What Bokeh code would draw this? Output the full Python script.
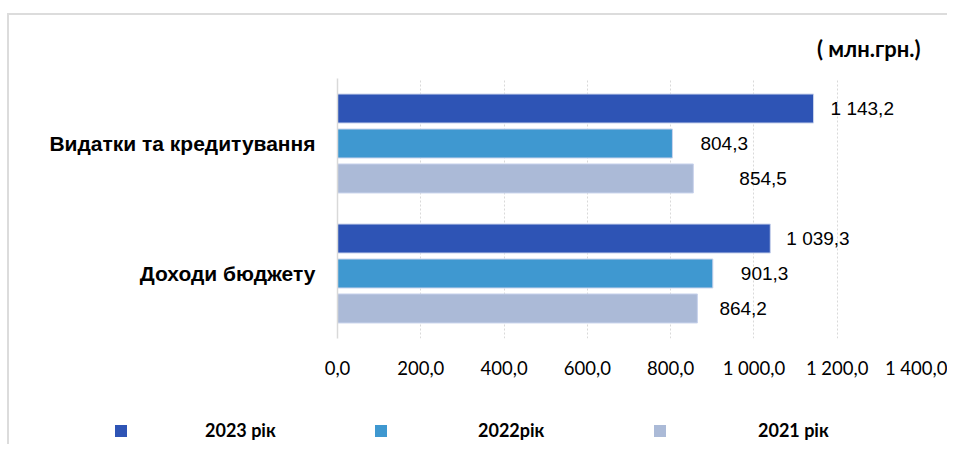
from bokeh.plotting import figure
from bokeh.models import (FactorRange, Range1d, ColumnDataSource, FixedTicker, Legend,
                          LegendItem, Title)
from bokeh.layouts import column
from bokeh.transform import dodge
from bokeh.core.properties import value
from bokeh.embed import file_html
from bokeh.resources import INLINE

categories = ["Видатки та кредитування", "Доходи бюджету"]
series_names = ["2023 рік", "2022рік", "2021 рік"]
v2023 = [1143.2, 1039.3]
v2022 = [804.3, 901.3]
v2021 = [854.5, 864.2]
tick_values = [0, 200, 400, 600, 800, 1000, 1200, 1400]
tick_labels = ["0,0", "200,0", "400,0", "600,0", "800,0", "1 000,0", "1 200,0", "1 400,0"]
unit_label = "( млн.грн.)"

colors = ["#2E54B5", "#3F98D0", "#ABBAD7"]
label_offsets = [[17, 16], [28, 28], [46, 22]]
dodges = [0.269, 0.0, -0.269]
legend_x = [113, 373, 652]
legend_standoff = [77, 90, 91]


def fmt(v):
    s = f"{v:,.1f}"
    return s.replace(",", " ").replace(".", ",")


W, H1, H2 = 947, 400, 44
p = figure(width=W, height=H1, output_backend="svg", toolbar_location=None,
           y_range=FactorRange(factors=list(reversed(categories))),
           x_range=Range1d(0, 1400),
           min_border_left=337, min_border_right=W - 920, min_border_top=78,
           min_border_bottom=H1 - 338)
p.outline_line_color = None
p.background_fill_color = "white"
p.border_fill_color = "white"

renderers = []
series_vals = [v2023, v2022, v2021]
for vals, col, d, offs in zip(series_vals, colors, dodges, label_offsets):
    src = ColumnDataSource(dict(cat=categories, val=vals, lbl=[fmt(v) for v in vals], off=offs))
    r = p.hbar(y=dodge("cat", d, range=p.y_range), right="val", left=0, height=0.223,
               source=src, fill_color=col, line_color="#C9D3EC", line_width=1)
    renderers.append(r)
    p.text(x="val", y=dodge("cat", d, range=p.y_range), text="lbl", x_offset="off", source=src,
           text_font=value("Liberation Sans"), text_font_size="19px", text_color="#000000",
           text_baseline="middle", text_align="left")

# axes
p.xaxis.ticker = FixedTicker(ticks=tick_values)
p.xaxis.major_label_overrides = {t: l for t, l in zip(tick_values, tick_labels)}
p.xaxis.axis_line_color = None
p.xaxis.major_tick_line_color = None
p.xaxis.minor_tick_line_color = None
p.xaxis.major_label_text_font = "Lato"
p.xaxis.major_label_text_font_size = "18.5px"
p.xaxis.major_label_text_color = "#000000"
p.xaxis.major_label_standoff = 12

p.yaxis.axis_line_color = "#D9D9D9"
p.yaxis.axis_line_width = 1.5
p.yaxis.major_tick_line_color = None
p.yaxis.minor_tick_line_color = None
p.yaxis.major_label_text_font = "Liberation Sans"
p.yaxis.major_label_text_font_style = "bold"
p.yaxis.major_label_text_font_size = "21px"
p.yaxis.major_label_text_color = "#000000"
p.yaxis.major_label_standoff = 16

p.xgrid.grid_line_color = "#D9D9D9"
p.xgrid.grid_line_dash = "2 2"
p.xgrid.grid_line_width = 1
p.ygrid.grid_line_color = None

t = Title(text=unit_label, align="right", text_font="Lato", text_font_style="bold",
          text_font_size="22px", text_color="#000000", standoff=33)
p.add_layout(t, "above")

# legend strip
p2 = figure(width=W, height=H2, output_backend="svg", toolbar_location=None,
            x_range=Range1d(0, W), y_range=Range1d(0, H2),
            min_border=0, min_border_left=0, min_border_right=0,
            min_border_top=0, min_border_bottom=0)
p2.axis.visible = False
p2.grid.grid_line_color = None
p2.outline_line_color = None
for pp in (p, p2):
    try:
        pp.frame_align = False
    except Exception:
        pass
for vals, col, name, lx, so in zip(series_vals, colors, series_names, legend_x, legend_standoff):
    src2 = ColumnDataSource(dict(cat=list(range(len(vals))), val=vals))
    dr = p2.hbar(y="cat", right="val", left=0, height=0.5, source=src2, fill_color=col,
                 line_color=None)
    dr.visible = False
    lg = Legend(items=[LegendItem(label=name, renderers=[dr])], location=(lx, 3),
                orientation="horizontal", glyph_width=15, glyph_height=15, label_height=12,
                label_standoff=so, padding=0, margin=0, border_line_color=None,
                background_fill_alpha=0, inactive_fill_alpha=0,
                label_text_font="Lato", label_text_font_style="bold",
                label_text_font_size="18px", label_text_color="#000000")
    p2.add_layout(lg)

layout = column(p, p2, spacing=0)
try:
    from bokeh.models import InlineStyleSheet
    css = (":host { position: relative; }"
           ":host::after { content: ''; position: absolute; left: 7px; top: 13px; "
           "right: 0px; bottom: 0px; border-left: 2px solid #DCDCDC; "
           "border-top: 2px solid #DCDCDC; pointer-events: none; }")
    layout.stylesheets = [InlineStyleSheet(css=css)]
except Exception:
    pass
open("out.html", "w").write(file_html(layout, INLINE))
